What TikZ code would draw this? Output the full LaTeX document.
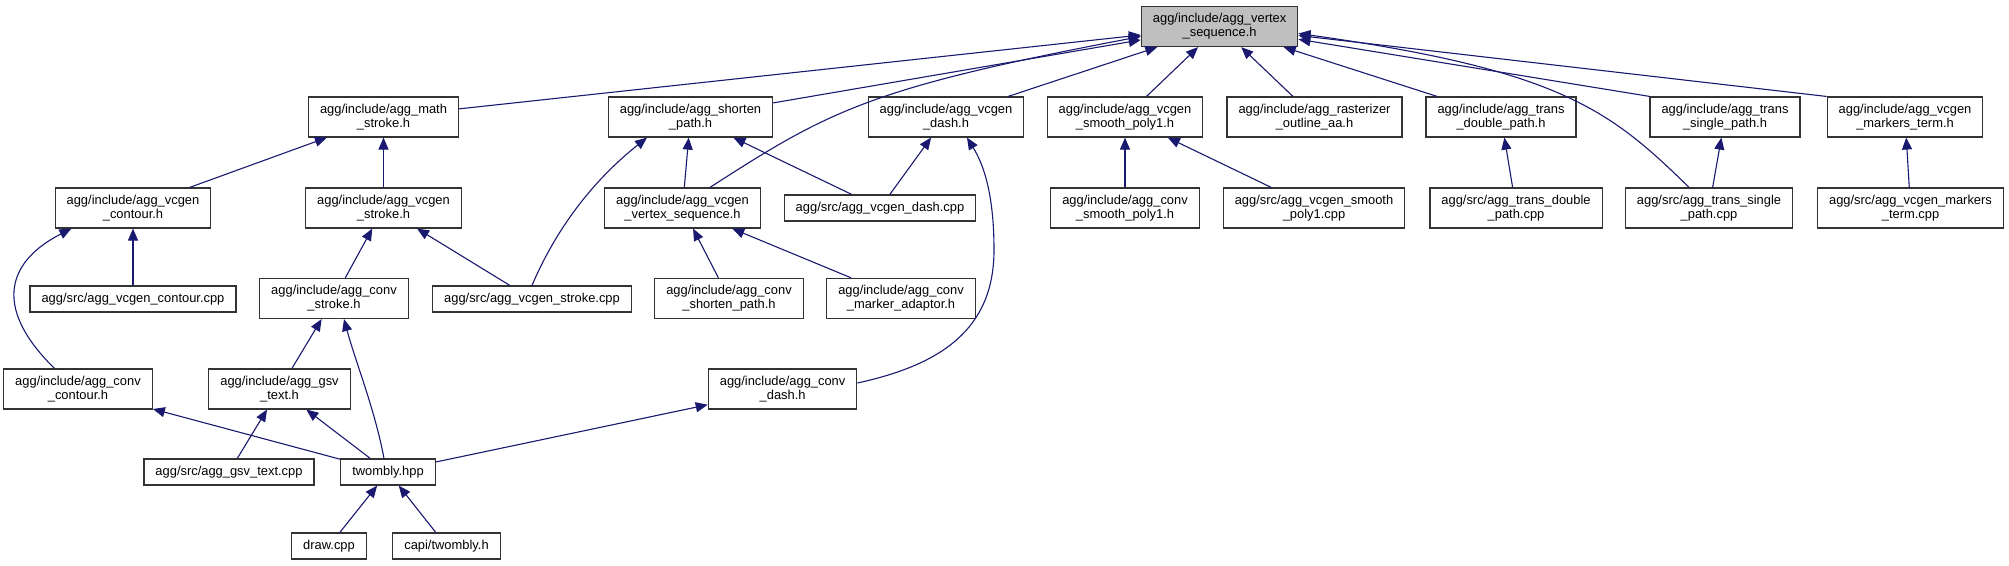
\documentclass[tikz,border=0pt]{standalone}
\usepackage{fontspec}
\setmainfont{Liberation Sans}
\usepackage{xcolor}
\usetikzlibrary{arrows.meta,positioning}
\definecolor{edgeblue}{HTML}{191970}

\begin{document}
\begin{tikzpicture}[
    x=1pt,y=-1pt,
    font=\fontsize{12.9}{14}\selectfont,
    box/.style={draw=black!80,line width=1.2pt,fill=white,inner xsep=11.5pt,inner ysep=7pt,minimum height=26pt,align=center},
    mainbox/.style={box,fill=black!25},
    arr/.style={-{Triangle[length=12pt,width=10pt]},draw=edgeblue,line width=1.1pt}
  ]
    \useasboundingbox (0,0) rectangle (2009,565);
    % top row
    \node[mainbox] (vs) at (1219.6,26.5) {agg/include/agg\_vertex\\\_sequence.h};
    % includers of agg_vertex_sequence.h
    \node[box] (mstroke)  at (383.5,117) {agg/include/agg\_math\\\_stroke.h};
    \node[box] (shorten)  at (690.5,117) {agg/include/agg\_shorten\\\_path.h};
    \node[box] (vdash)    at (946,117)   {agg/include/agg\_vcgen\\\_dash.h};
    \node[box] (vsmooth)  at (1125,117)  {agg/include/agg\_vcgen\\\_smooth\_poly1.h};
    \node[box] (raster)   at (1314.5,117) {agg/include/agg\_rasterizer\\\_outline\_aa.h};
    \node[box] (tdouble)  at (1501,117)  {agg/include/agg\_trans\\\_double\_path.h};
    \node[box] (tsingle)  at (1725,117)  {agg/include/agg\_trans\\\_single\_path.h};
    \node[box] (vmarkers) at (1905,117)  {agg/include/agg\_vcgen\\\_markers\_term.h};
    % second level
    \node[box] (vcontour)    at (133,208)    {agg/include/agg\_vcgen\\\_contour.h};
    \node[box] (vstroke)     at (383.5,208)  {agg/include/agg\_vcgen\\\_stroke.h};
    \node[box] (vvertex)     at (682.5,208)  {agg/include/agg\_vcgen\\\_vertex\_sequence.h};
    \node[box] (vdashcpp)    at (880,208)    {agg/src/agg\_vcgen\_dash.cpp};
    \node[box] (csmooth)     at (1125,208)   {agg/include/agg\_conv\\\_smooth\_poly1.h};
    \node[box] (vsmoothcpp)  at (1314,208)   {agg/src/agg\_vcgen\_smooth\\\_poly1.cpp};
    \node[box] (tdoublecpp)  at (1516,208)   {agg/src/agg\_trans\_double\\\_path.cpp};
    \node[box] (tsinglecpp)  at (1709,208)   {agg/src/agg\_trans\_single\\\_path.cpp};
    \node[box] (vmarkerscpp) at (1910.5,208) {agg/src/agg\_vcgen\_markers\\\_term.cpp};
    % third level
    \node[box] (vcontourcpp) at (133,299)   {agg/src/agg\_vcgen\_contour.cpp};
    \node[box] (cstroke)     at (334,298.5) {agg/include/agg\_conv\\\_stroke.h};
    \node[box] (vstrokecpp)  at (532,299)   {agg/src/agg\_vcgen\_stroke.cpp};
    \node[box] (cshorten)    at (729,298.5) {agg/include/agg\_conv\\\_shorten\_path.h};
    \node[box] (cmarker)     at (901,298.5) {agg/include/agg\_conv\\\_marker\_adaptor.h};
    % fourth level
    \node[box] (ccontour) at (78,389)    {agg/include/agg\_conv\\\_contour.h};
    \node[box] (gsv)      at (279.5,389) {agg/include/agg\_gsv\\\_text.h};
    \node[box] (cdash)    at (782.6,389) {agg/include/agg\_conv\\\_dash.h};
    % bottom
    \node[box] (gsvcpp)  at (229,472)   {agg/src/agg\_gsv\_text.cpp};
    \node[box] (twombly) at (388,472)   {twombly.hpp};
    \node[box] (drawcpp) at (329,546)   {draw.cpp};
    \node[box] (capi)    at (446.5,546) {capi/twombly.h};
    % edges into agg_vertex_sequence.h
    \draw[arr] (mstroke) -- (vs);
    \draw[arr] (shorten) -- (vs);
    \draw[arr] ([xshift=27.5pt]vvertex.north) .. controls (830,110) and (870,88) .. ([yshift=-10pt]vs.west);
    \draw[arr] (vdash) -- (vs);
    \draw[arr] (vsmooth) -- (vs);
    \draw[arr] (raster) -- (vs);
    \draw[arr] (tdouble) -- (vs);
    \draw[arr] (tsingle.north west) -- (vs);
    \draw[arr] (vmarkers.north west) -- (vs);
    \draw[arr] ([xshift=-20pt]tsinglecpp.north) .. controls (1610,110) and (1560,70) .. ([yshift=-7pt]vs.east);
    % second level edges
    \draw[arr] (vcontour) -- (mstroke);
    \draw[arr] (vstroke) -- (mstroke);
    \draw[arr] (vvertex) -- (shorten);
    \draw[arr] (vstrokecpp.north) .. controls (560,220) and (600,175) .. ([xshift=-43.5pt]shorten.south);
    \draw[arr] (vdashcpp) -- (shorten);
    \draw[arr] (vdashcpp) -- (vdash);
    \draw[arr] ([yshift=6pt]cdash.east) .. controls (940,365) and (994,330) .. (994,250)
      .. controls (994,190) and (982,162) .. ([xshift=21pt]vdash.south);
    \draw[arr] (csmooth) -- (vsmooth);
    \draw[arr] (vsmoothcpp) -- (vsmooth);
    \draw[arr] (tdoublecpp) -- (tdouble);
    \draw[arr] (tsinglecpp) -- (tsingle);
    \draw[arr] (vmarkerscpp) -- (vmarkers);
    % third level edges
    \draw[arr] (vcontourcpp) -- (vcontour);
    \draw[arr] ([xshift=-23.5pt]ccontour.north) .. controls (-10,305) and (10,260) .. ([xshift=-61.6pt]vcontour.south);
    \draw[arr] (cstroke) -- (vstroke);
    \draw[arr] (vstrokecpp) -- (vstroke);
    \draw[arr] (cshorten) -- (vvertex);
    \draw[arr] (cmarker) -- (vvertex);
    % lower edges
    \draw[arr] (gsv) -- (cstroke);
    \draw[arr] ([xshift=-4pt]twombly.north) .. controls (375,410) and (355,360) .. ([xshift=10pt]cstroke.south);
    \draw[arr] (gsvcpp) -- (gsv);
    \draw[arr] (twombly) -- (gsv);
    \draw[arr] (twombly) -- (ccontour);
    \draw[arr] (twombly) -- (cdash);
    \draw[arr] (drawcpp) -- (twombly);
    \draw[arr] (capi) -- (twombly);
  \end{tikzpicture}
\end{document}
